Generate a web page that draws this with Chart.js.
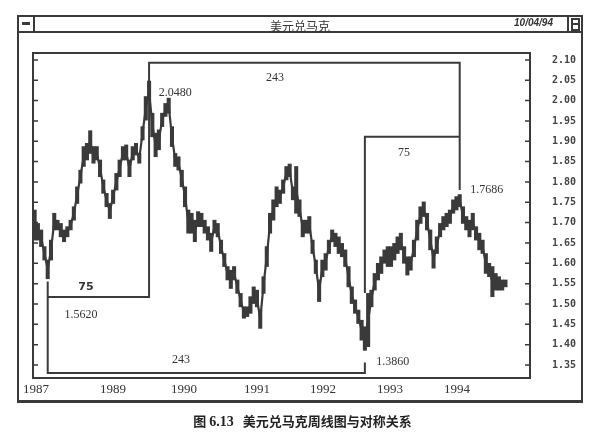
<!DOCTYPE html>
<html>
<head>
<meta charset="utf-8">
<title>美元兑马克</title>
<script src="https://cdn.jsdelivr.net/npm/chart.js"></script>
<style>
  body { margin: 0; background: #fff; }
  #page { position: relative; width: 605px; height: 439px; overflow: hidden; }
  #chart { position: absolute; left: 0; top: 0; }
  #win { position: absolute; left: 17px; top: 15px; width: 562px; height: 383px;
         border: 2px solid #3a3a3a; border-bottom-width: 3px; }
  #bar { position: relative; height: 14px; line-height: 14px; border-bottom: 2px solid #3a3a3a;
         text-align: center; font: 12px "Noto Sans CJK SC"; color: #333; }
  #close { position: absolute; left: 0; top: 0; width: 14px; height: 14px; border-right: 2px solid #3a3a3a; }
  #close i { position: absolute; left: 3px; top: 5px; width: 8px; height: 3px; background: #3a3a3a; }
  #size { position: absolute; right: 0; top: 0; width: 12px; height: 14px; border-left: 2px solid #3a3a3a; }
  #size i { position: absolute; left: 2px; top: 1px; width: 5px; height: 9px; border: 2px solid #3a3a3a; }
  #size b { position: absolute; left: 2px; top: 6px; width: 9px; height: 2px; background: #3a3a3a; }
  #date { position: absolute; right: 28px; top: 0; font: italic bold 10px "Liberation Sans"; color: #333; }
  #caption { position: absolute; left: 0; top: 412px; width: 605px; text-align: center;
             font: bold 13px "Noto Sans CJK SC"; color: #222; line-height: 18px; }
  #caption span { font-family: "Liberation Serif"; font-size: 14px; }
</style>
</head>
<body>
<div id="page">
  <canvas id="chart" width="605" height="439"></canvas>
  <div id="win">
    <div id="bar"><div id="close"><i></i></div>美元兑马克<div id="date">10/04/94</div><div id="size"><i></i><b></b></div></div>
  </div>
  <div id="caption">图 <span>6.13</span>&nbsp;&nbsp;&nbsp;美元兑马克周线图与对称关系</div>
</div>
<script>
// weekly ranges, one entry every ~2.5 weeks
const lows = [
  1.657, 1.657, 1.641, 1.608, 1.562, 1.608, 1.682, 1.682, 1.665, 1.653, 1.665, 1.682,
  1.706, 1.747, 1.797, 1.838, 1.854, 1.870, 1.846, 1.854, 1.813, 1.772, 1.739, 1.710,
  1.747, 1.780, 1.813, 1.854, 1.854, 1.813, 1.854, 1.866, 1.846, 1.903, 1.952, 2.000,
  1.911, 1.862, 1.879, 1.936, 1.961, 1.969, 1.887, 1.838, 1.829, 1.788, 1.739, 1.674,
  1.674, 1.653, 1.690, 1.690, 1.674, 1.657, 1.629, 1.674, 1.665, 1.624, 1.592, 1.559,
  1.538, 1.559, 1.526, 1.493, 1.465, 1.469, 1.477, 1.501, 1.493, 1.440, 1.526, 1.592,
  1.674, 1.706, 1.739, 1.747, 1.772, 1.805, 1.813, 1.756, 1.723, 1.715, 1.665, 1.674,
  1.674, 1.624, 1.575, 1.506, 1.567, 1.583, 1.624, 1.653, 1.641, 1.624, 1.616, 1.592,
  1.542, 1.501, 1.477, 1.452, 1.411, 1.386, 1.395, 1.493, 1.534, 1.559, 1.575, 1.600,
  1.592, 1.592, 1.608, 1.624, 1.633, 1.600, 1.571, 1.583, 1.616, 1.657, 1.698, 1.715,
  1.682, 1.633, 1.588, 1.624, 1.665, 1.682, 1.690, 1.698, 1.723, 1.731, 1.739, 1.698,
  1.682, 1.665, 1.682, 1.657, 1.633, 1.624, 1.575, 1.567, 1.518, 1.534, 1.534, 1.534,
  1.542
];
const highs = [
  1.731, 1.698, 1.682, 1.641, 1.608, 1.657, 1.723, 1.706, 1.698, 1.682, 1.690, 1.706,
  1.739, 1.788, 1.829, 1.887, 1.895, 1.926, 1.887, 1.887, 1.854, 1.805, 1.772, 1.747,
  1.780, 1.821, 1.854, 1.887, 1.891, 1.854, 1.887, 1.895, 1.870, 1.936, 2.010, 2.048,
  1.969, 1.920, 1.928, 1.969, 1.993, 2.006, 1.936, 1.870, 1.862, 1.829, 1.788, 1.731,
  1.723, 1.706, 1.727, 1.723, 1.706, 1.690, 1.674, 1.706, 1.698, 1.657, 1.624, 1.592,
  1.583, 1.592, 1.559, 1.526, 1.493, 1.493, 1.518, 1.542, 1.534, 1.485, 1.567, 1.641,
  1.723, 1.756, 1.788, 1.780, 1.805, 1.838, 1.844, 1.788, 1.838, 1.756, 1.706, 1.706,
  1.715, 1.657, 1.608, 1.559, 1.608, 1.624, 1.657, 1.682, 1.674, 1.665, 1.649, 1.633,
  1.592, 1.542, 1.510, 1.485, 1.460, 1.444, 1.526, 1.534, 1.575, 1.600, 1.616, 1.633,
  1.641, 1.641, 1.649, 1.665, 1.674, 1.641, 1.616, 1.616, 1.657, 1.706, 1.739, 1.751,
  1.723, 1.682, 1.633, 1.665, 1.698, 1.715, 1.723, 1.731, 1.756, 1.764, 1.769, 1.739,
  1.715, 1.706, 1.723, 1.690, 1.674, 1.657, 1.624, 1.600, 1.592, 1.575, 1.567, 1.559,
  1.559
];

const priceTicks = [1.35, 1.40, 1.45, 1.50, 1.55, 1.60, 1.65, 1.70, 1.75, 1.80, 1.85, 1.90, 1.95, 2.00, 2.05, 2.10];
const yearLabels = ['1987', '1989', '1990', '1991', '1992', '1993', '1994'];
const yearPos = [0.4, 24, 45.7, 68, 88.2, 108.7, 129.2];

// symmetry brackets (x in the same step units as the series)
const lowerBracket = [{x: 4, y: 1.555}, {x: 4, y: 1.330}, {x: 101, y: 1.330}, {x: 101, y: 1.356}];
const upperBracket = [{x: 4, y: 1.517}, {x: 35, y: 1.517}, {x: 35, y: 2.093}, {x: 130, y: 2.093}, {x: 130, y: 1.780}];
const rightBracket = [{x: 101, y: 1.527}, {x: 101, y: 1.911}, {x: 130, y: 1.911}];

const notes = [
  {text: '2.0480', x: 43, y: 2.019},
  {text: '243', x: 73.5, y: 2.056},
  {text: '75', x: 113, y: 1.871},
  {text: '1.7686', x: 138.3, y: 1.780},
  {text: '75', x: 15.7, y: 1.542},
  {text: '1.5620', x: 14.2, y: 1.473},
  {text: '243', x: 44.8, y: 1.362},
  {text: '1.3860', x: 109.5, y: 1.357}
];
const boldNote = 4;

const ink = '#3a3a3a';

const boxPlugin = {
  id: 'box',
  beforeDatasetsDraw(chart) {
    const {ctx, chartArea: a, scales: {y}} = chart;
    ctx.save();
    ctx.strokeStyle = ink;
    ctx.lineWidth = 2;
    ctx.strokeRect(a.left, a.top, a.right - a.left, a.bottom - a.top);
    ctx.lineWidth = 1.5;
    ctx.beginPath();
    priceTicks.forEach(v => {
      const py = y.getPixelForValue(v);
      ctx.moveTo(a.left, py); ctx.lineTo(a.left + 5, py);
      ctx.moveTo(a.right - 5, py); ctx.lineTo(a.right, py);
    });
    ctx.stroke();
    ctx.restore();
  },
  afterDatasetsDraw(chart) {
    const {ctx, scales: {x, y}} = chart;
    ctx.save();
    ctx.fillStyle = '#333';
    ctx.textAlign = 'center';
    ctx.textBaseline = 'middle';
    notes.forEach((n, i) => {
      ctx.font = i === boldNote ? 'bold 11px "DejaVu Sans"' : '12px "Liberation Serif"';
      ctx.fillText(n.text, x.getPixelForValue(n.x), y.getPixelForValue(n.y));
    });
    ctx.restore();
  }
};

const bracketStyle = {type: 'line', borderColor: ink, borderWidth: 2, pointRadius: 0, tension: 0, fill: false, order: 1};

new Chart(document.getElementById('chart'), {
  type: 'bar',
  data: {
    datasets: [
      {
        data: lows.map((lo, i) => ({x: i, y: [lo, highs[i]]})),
        backgroundColor: ink,
        borderWidth: 0,
        borderSkipped: false,
        barThickness: 3.4,
        order: 2
      },
      {
        // joins the weekly ranges so the trace reads as one line
        type: 'line',
        data: lows.map((lo, i) => ({x: i, y: (lo + highs[i]) / 2})),
        borderColor: ink, borderWidth: 2.2, pointRadius: 0, tension: 0, fill: false,
        order: 3
      },
      {...bracketStyle, data: lowerBracket},
      {...bracketStyle, data: upperBracket},
      {...bracketStyle, data: rightBracket}
    ]
  },
  options: {
    responsive: false,
    animation: false,
    layout: {padding: {left: 33, top: 53, right: 22, bottom: 37}},
    plugins: {legend: {display: false}, tooltip: {enabled: false}},
    scales: {
      x: {
        type: 'linear', position: 'bottom', min: -0.5, max: 151.5, offset: false,
        afterBuildTicks: s => { s.ticks = yearPos.map(v => ({value: v})); },
        afterFit: s => { s.height = 24; },
        grid: {display: false, drawTicks: false, tickLength: 0}, border: {display: false},
        ticks: {
          autoSkip: false, maxRotation: 0, padding: 4, color: '#333',
          font: {family: 'Liberation Serif', size: 13},
          callback: (v, i) => yearLabels[i]
        }
      },
      y: {
        position: 'right', min: 1.318, max: 2.117,
        afterBuildTicks: s => { s.ticks = priceTicks.map(v => ({value: v})); },
        afterFit: s => { s.width = 53; },
        grid: {display: false, drawTicks: false, tickLength: 0}, border: {display: false},
        ticks: {
          padding: 22, color: '#444',
          font: {family: 'DejaVu Sans Mono', size: 10, weight: 'bold'},
          callback: v => v.toFixed(2)
        }
      }
    }
  },
  plugins: [boxPlugin]
});
</script>
</body>
</html>
